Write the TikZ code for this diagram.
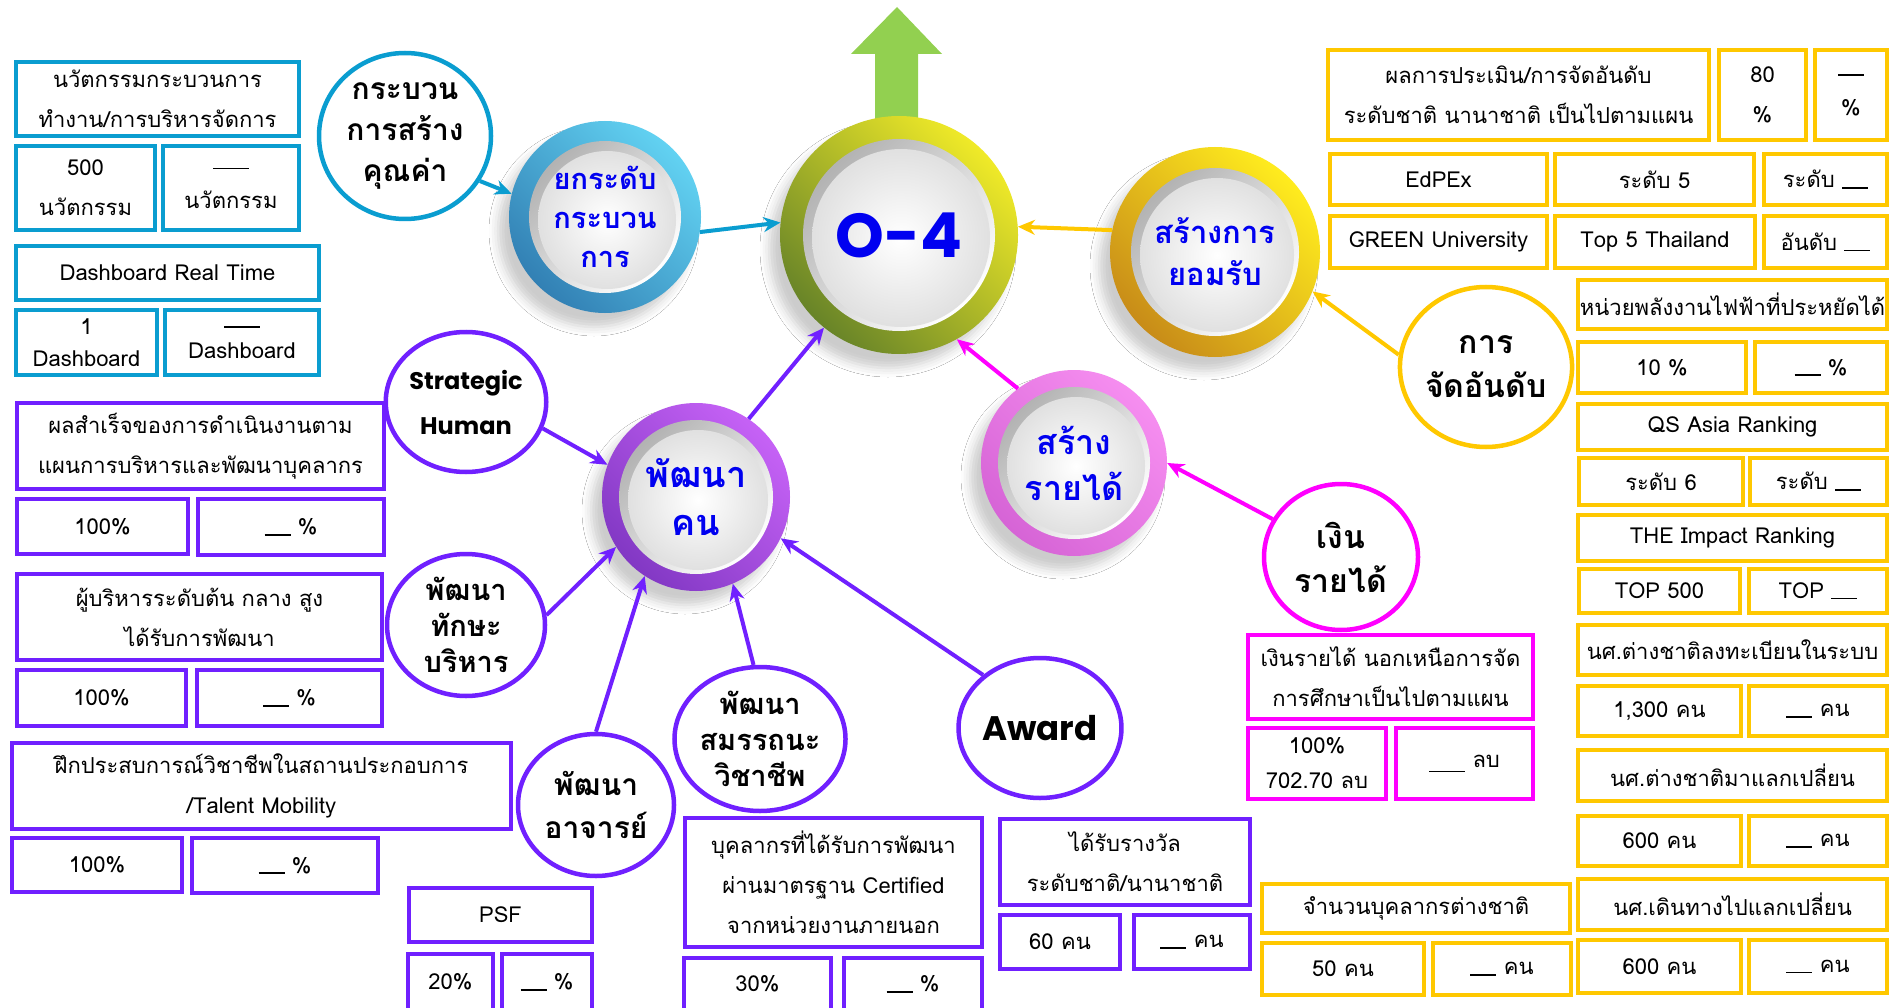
\documentclass[tikz,border=0pt]{standalone}
\usepackage{fontspec}
\newfontfamily\thai[Script=Thai]{Loma}
\newfontfamily\pop{Poppins}
\usetikzlibrary{shapes.geometric,arrows.meta,shadows.blur}
\definecolor{cblue}{HTML}{0A9DD0}
\definecolor{cpur}{HTML}{7020FF}
\definecolor{cmag}{HTML}{FF00FF}
\definecolor{cyel}{HTML}{FFC800}
\definecolor{tblue}{HTML}{0000F0}
\definecolor{agreen}{HTML}{92D050}
\definecolor{g1}{RGB}{104,132,40}\definecolor{g2}{RGB}{180,198,52}\definecolor{g3}{RGB}{240,234,40}
\definecolor{b1}{RGB}{50,128,180}\definecolor{b2}{RGB}{78,174,222}\definecolor{b3}{RGB}{98,210,242}
\definecolor{y1}{RGB}{200,140,24}\definecolor{y2}{RGB}{246,198,24}\definecolor{y3}{RGB}{255,236,30}
\definecolor{k1}{RGB}{214,100,214}\definecolor{k2}{RGB}{240,128,236}\definecolor{k3}{RGB}{246,142,240}
\definecolor{u1}{RGB}{130,56,196}\definecolor{u2}{RGB}{182,88,236}\definecolor{u3}{RGB}{198,98,246}
\newcommand\bl[1][26]{\rule[-1pt]{#1pt}{1.6pt}}
\tikzset{
  bx/.style={draw=#1, line width=4pt, fill=white, inner sep=0pt, align=center,
    font=\thai\fontsize{22}{40}\selectfont, text=black},
  tight/.style={font=\thai\fontsize{22}{32}\selectfont},
  mid/.style={font=\thai\fontsize{22}{35}\selectfont},
  ol/.style={ellipse, draw=#1, line width=4.5pt, fill=white, inner sep=0pt, align=center, text=black},
  arr/.style={draw=#1, line width=4pt, -{Stealth[length=17pt,width=15pt]}},
  rgreen/.style={bottom color=g1, middle color=g2, top color=g3, shading angle=-45},
  rblue/.style={bottom color=b1, middle color=b2, top color=b3, shading angle=-45},
  ryel/.style={bottom color=y1, middle color=y2, top color=y3, shading angle=-45},
  rpink/.style={bottom color=k1, middle color=k2, top color=k3, shading angle=-45},
  rpur/.style={bottom color=u1, middle color=u2, top color=u3, shading angle=-45},
}
% \tb[extra options]{name}{colour}{x1}{y1}{x2}{y2}{text}
\newcommand\tb[8][]{\node[bx=#3, #1, minimum width={(#6)-(#4)-4}, minimum height={(#7)-(#5)-4}]
  (#2) at ({((#4)+(#6))/2},{((#5)+(#7))/2}) {#8};}
\newcommand\ring[9]{%
  \node[circle, inner sep=0pt, minimum size={2*(#4)}, #6,
    blur shadow={shadow xshift=-11pt, shadow yshift=-14pt, shadow blur radius=9pt, shadow opacity=20}] (#1) at (#2,#3) {};
  \node[circle, inner sep=0pt, minimum size={2*(#5)}, top color=black!30, bottom color=white, shading angle=45] (#1a) at (#1.center) {};
  \node[circle, inner sep=0pt, minimum size={2*(#5)-14}, inner color=white, outer color=black!12] (#1b) at ([shift={(2,3)}]#1.center) {};
  \node[text=tblue, font=\thai\bfseries\fontsize{#7}{#8}\selectfont, align=center, inner sep=0pt] (#1t) at (#1.center) {#9};
}
\begin{document}
\begin{tikzpicture}[x=1pt,y=-1pt]
\useasboundingbox (0,0) rectangle (1892,1008);
\clip (0,0) rectangle (1892,1008);
\fill[white] (0,0) rectangle (1892,1008);

% ---------- blue group ----------
\tb{b1}{cblue}{14}{60}{301}{138}{นวัตกรรมกระบวนการ\\ทำงาน/การบริหารจัดการ}
\tb{b2}{cblue}{14}{144}{157}{232}{500\\นวัตกรรม}
\tb{b3}{cblue}{161}{144}{301}{232}{\bl[36]\\นวัตกรรม}
\tb{b4}{cblue}{14}{244}{321}{302}{Dashboard Real Time}
\tb[tight]{b5}{cblue}{14}{308}{159}{377}{1\\Dashboard}
\tb[tight]{b6}{cblue}{163}{308}{321}{377}{\bl[36]\\Dashboard}

\node[ol=cblue, minimum width=172pt, minimum height=166pt, font=\thai\bfseries\fontsize{30}{41}\selectfont] (c1) at (405,136) {กระบวน\\การสร้าง\\คุณค่า};

% ---------- purple group boxes ----------
\tb{p1}{cpur}{15}{401}{386}{491}{ผลสำเร็จของการดำเนินงานตาม\\แผนการบริหารและพัฒนาบุคลากร}
\tb{p2}{cpur}{15}{497}{190}{556}{100\%}
\tb{p3}{cpur}{196}{497}{386}{557}{\bl\ \%}
\tb{p4}{cpur}{15}{572}{384}{662}{ผู้บริหารระดับต้น กลาง สูง\\ได้รับการพัฒนา}
\tb{p5}{cpur}{15}{668}{188}{728}{100\%}
\tb{p6}{cpur}{195}{668}{384}{728}{\bl\ \%}
\tb{p7}{cpur}{10}{741}{513}{831}{ฝึกประสบการณ์วิชาชีพในสถานประกอบการ\\/Talent Mobility}
\tb{p8}{cpur}{10}{836}{184}{894}{100\%}
\tb{p9}{cpur}{190}{836}{380}{895}{\bl\ \%}
\tb{p10}{cpur}{407}{886}{594}{944}{PSF}
\tb{p11}{cpur}{406}{952}{495}{1012}{20\%}
\tb{p12}{cpur}{500}{952}{594}{1012}{\bl\ \%}
\tb{p13}{cpur}{683}{816}{984}{949}{บุคลากรที่ได้รับการพัฒนา\\ผ่านมาตรฐาน Certified\\จากหน่วยงานภายนอก}
\tb{p14}{cpur}{682}{956}{833}{1012}{30\%}
\tb{p15}{cpur}{842}{956}{984}{1012}{\bl\ \%}
\tb{p16}{cpur}{998}{817}{1252}{907}{ได้รับรางวัล\\ระดับชาติ/นานาชาติ}
\tb{p17}{cpur}{998}{913}{1122}{971}{60 คน}
\tb{p18}{cpur}{1132}{913}{1252}{971}{\bl\ คน}

% ---------- magenta boxes ----------
\tb{m1}{cmag}{1246}{633}{1535}{721}{เงินรายได้ นอกเหนือการจัด\\การศึกษาเป็นไปตามแผน}
\tb[mid]{m2}{cmag}{1246}{726}{1388}{801}{100\%\\702.70 ลบ}
\tb{m3}{cmag}{1394}{726}{1535}{801}{\bl[36]\ \raisebox{4pt}{ลบ}}

% ---------- yellow boxes ----------
\tb{y1}{cyel}{1326}{48}{1711}{142}{ผลการประเมิน/การจัดอันดับ\\ระดับชาติ นานาชาติ เป็นไปตามแผน}
\tb{y2}{cyel}{1717}{48}{1808}{142}{80\\\%}
\tb{y3}{cyel}{1813}{48}{1889}{142}{\bl\\\%}
\tb{y4}{cyel}{1328}{152}{1549}{207}{EdPEx}
\tb{y5}{cyel}{1553}{152}{1756}{207}{ระดับ 5}
\tb{y6}{cyel}{1762}{152}{1889}{207}{ระดับ \bl}
\tb{y7}{cyel}{1328}{214}{1549}{270}{GREEN University}
\tb{y8}{cyel}{1553}{214}{1757}{270}{Top 5 Thailand}
\tb{y9}{cyel}{1762}{214}{1889}{270}{อันดับ \bl}
\tb{y10}{cyel}{1576}{278}{1889}{331}{หน่วยพลังงานไฟฟ้าที่ประหยัดได้}
\tb{y11}{cyel}{1576}{340}{1748}{395}{10 \%}
\tb{y12}{cyel}{1753}{340}{1889}{395}{\bl\ \%}
\tb{y13}{cyel}{1576}{402}{1889}{452}{QS Asia Ranking}
\tb{y14}{cyel}{1577}{456}{1745}{507}{ระดับ 6}
\tb{y15}{cyel}{1748}{456}{1889}{507}{ระดับ \bl}
\tb{y16}{cyel}{1576}{513}{1889}{563}{THE Impact Ranking}
\tb{y17}{cyel}{1577}{567}{1742}{615}{TOP 500}
\tb{y18}{cyel}{1747}{567}{1889}{615}{TOP \bl}
\tb{y19}{cyel}{1576}{623}{1889}{677}{นศ.ต่างชาติลงทะเบียนในระบบ}
\tb{y20}{cyel}{1576}{684}{1743}{738}{1,300 คน}
\tb{y21}{cyel}{1747}{684}{1889}{738}{\bl\ คน}
\tb{y22}{cyel}{1576}{748}{1889}{803}{นศ.ต่างชาติมาแลกเปลี่ยน}
\tb{y23}{cyel}{1576}{814}{1743}{868}{600 คน}
\tb{y24}{cyel}{1747}{814}{1889}{868}{\bl\ คน}
\tb{y25}{cyel}{1576}{877}{1889}{932}{นศ.เดินทางไปแลกเปลี่ยน}
\tb{y26}{cyel}{1576}{938}{1743}{995}{600 คน}
\tb{y27}{cyel}{1747}{938}{1889}{995}{\bl\ คน}
\tb{y28}{cyel}{1260}{882}{1572}{935}{จำนวนบุคลากรต่างชาติ}
\tb{y29}{cyel}{1260}{941}{1426}{997}{50 คน}
\tb{y30}{cyel}{1431}{941}{1573}{997}{\bl\ คน}

% ---------- outline circles ----------
\node[ol=cyel, minimum width=166pt, minimum height=160pt, font=\thai\bfseries\fontsize{32}{44}\selectfont] (cj) at (1486,367) {การ\\จัดอันดับ};
\node[ol=cmag, minimum width=154pt, minimum height=146pt, font=\thai\bfseries\fontsize{32}{44}\selectfont] (cn) at (1341,557) {เงิน\\รายได้};
\node[ol=cpur, minimum width=156pt, minimum height=140pt, font=\pop\bfseries\fontsize{24}{45}\selectfont] (sh) at (466,402) {Strategic\\Human};
\node[ol=cpur, minimum width=158pt, minimum height=142pt, font=\thai\bfseries\fontsize{29}{36}\selectfont] (tk) at (466,625) {พัฒนา\\ทักษะ\\บริหาร};
\node[ol=cpur, minimum width=156pt, minimum height=142pt, font=\thai\bfseries\fontsize{30}{43}\selectfont] (aj) at (596,805) {พัฒนา\\อาจารย์};
\node[ol=cpur, minimum width=156pt, minimum height=144pt, font=\thai\bfseries\fontsize{29}{36}\selectfont] (sm) at (760,739) {พัฒนา\\สมรรถนะ\\วิชาชีพ};
\node[ol=cpur, minimum width=156pt, minimum height=140pt, font=\pop\bfseries\fontsize{34}{44}\selectfont] (aw) at (1040,728) {Award};

% ---------- big green arrow ----------
\fill[agreen] (875,130) -- (875,54) -- (851,54) -- (897,7) -- (942,54) -- (918,54) -- (918,130) -- cycle;

% ---------- ring nodes ----------
\ring{rb}{605}{217}{96}{76}{rblue}{29}{39}{ยกระดับ\\กระบวน\\การ}
\ring{o4}{899}{235}{119}{96}{rgreen}{66}{70}{\pop\bfseries\fontsize{62}{70}\selectfont O-4}
\ring{yr}{1215}{252}{105}{84}{ryel}{31}{42}{สร้างการ\\ยอมรับ}
\ring{pr}{1074}{463}{93}{76}{rpink}{34}{46}{สร้าง\\รายได้}
\ring{pk}{696}{497}{94}{77}{rpur}{36}{48}{พัฒนา\\คน}

% ---------- connectors ----------
\draw[arr=cblue] (c1.-31) -- (rb.166);
\draw[arr=cblue] (rb.-9) -- (o4.174);
\draw[arr=cyel] (yr.168) -- (o4.4);
\draw[arr=cmag] (pr.127) -- (o4.-61);
\draw[arr=cpur] (pk.56) -- (o4.231);
\draw[arr=cyel] (cj.172) -- (yr.-22);
\draw[arr=cmag] (cn.151) -- (pr.0);
\draw[arr=cpur] (sh.-19) -- (pk.160);
\draw[arr=cpur] (tk.7) -- (pk.212);
\draw[arr=cpur] (aj.90) -- (pk.237);
\draw[arr=cpur] (sm.95) -- (pk.-67);
\draw[arr=cpur] (aw.137) -- (pk.-26);
\end{tikzpicture}
\end{document}
